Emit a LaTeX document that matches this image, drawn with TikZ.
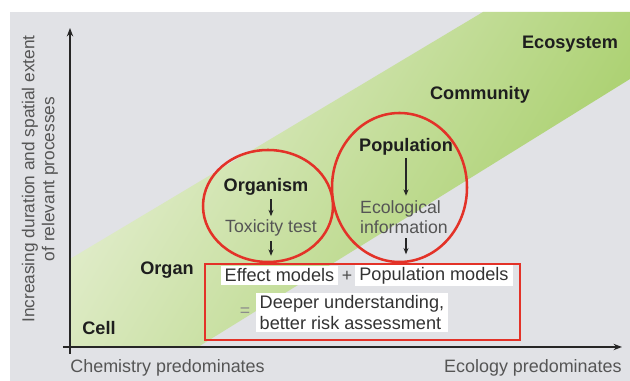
\documentclass[tikz,border=0pt]{standalone}
\usepackage{fontspec}
\setmainfont{Liberation Sans}
\usepackage{xcolor}
\usetikzlibrary{arrows.meta, positioning, calc}
\definecolor{panelgray}{RGB}{225, 226, 230}
\definecolor{bandpale}{RGB}{228, 238, 208}
\definecolor{bandgreen}{RGB}{166, 206, 104}
\definecolor{ringred}{RGB}{227, 50, 40}
\definecolor{labelgray}{RGB}{85, 85, 85}
\definecolor{leveldark}{RGB}{30, 30, 30}
\tikzset{
    level/.style={font=\bfseries\fontsize{8.6}{10}\selectfont, text=leveldark, inner sep=1pt},
    info/.style={font=\fontsize{8.4}{9.6}\selectfont, text=labelgray, inner sep=1pt, align=left},
    axislabel/.style={font=\fontsize{8.5}{10}\selectfont, text=labelgray, inner sep=0pt},
    ring/.style={draw=ringred, line width=1.2pt},
    whitebox/.style={fill=white, font=\fontsize{8.6}{9.8}\selectfont, text=black!80, inner xsep=2pt, inner ysep=1.2pt, align=left}
}

\begin{document}
\begin{tikzpicture}[
    axis/.style={-{Stealth[length=4pt, width=3pt]}, line width=0.9pt, black!85},
    flow/.style={-{Stealth[length=3pt, width=2.4pt]}, line width=0.5pt, black!85}
]
    \useasboundingbox (-1.1667, -0.5667) rectangle (9.3333, 5.7833);
    \fill[white] (-1.1667, -0.5667) rectangle (9.3333, 5.7833);
    \fill[panelgray] (-1, -0.5667) rectangle (9.3333, 5.5833);

    % --- GREEN BAND: scale of organisation ---
    \shade[left color=bandpale, right color=bandgreen, shading angle=59]
        (0, 0) -- (0, 1.4667) -- (6.8833, 5.5833) -- (9.3333, 5.5833)
        -- (9.3333, 4.4667) -- (2.1333, 0) -- cycle;

    % Axes
    \draw[axis] (0, -0.1167) -- (0, 5.3167);
    \draw[axis] (-0.1167, 0) -- (9.2, 0);
    \node[axislabel, anchor=west] (chem) at (0, -0.35) {Chemistry predominates};
    \node[axislabel, anchor=east] (eco) at (9.2, -0.35) {Ecology predominates};
    \node[axislabel, rotate=90, align=center, font=\fontsize{8.2}{9.5}\selectfont] (ylab) at (-0.5, 2.8)
        {Increasing duration and spatial extent\\of relevant processes};

    % Levels along the band
    \node[level] (ecosystem) at (8.3333, 5.05) {Ecosystem};
    \node[level] (community) at (6.8333, 4.2) {Community};
    \node[level] (population) at (5.6, 3.3333) {Population};
    \node[level] (organism) at (3.2667, 2.6667) {Organism};
    \node[level] (organ) at (1.6167, 1.2833) {Organ};
    \node[level] (cell) at (0.4833, 0.3167) {Cell};

    % --- RINGS ---
    \draw[ring] (3.3, 2.35) ellipse (1.0833cm and 0.9333cm);
    \draw[ring] (5.4917, 2.6583) ellipse (1.125cm and 1.2417cm);

    \node[info] (toxicity) at (3.35, 1.9833) {Toxicity test};
    \node[info] (ecoinfo) at (5.5667, 2.1667) {Ecological\\information};

    % Result box
    \node[draw=ringred, line width=1.2pt, minimum width=5.25cm, minimum height=1.2667cm] (box) at (4.875, 0.75) {};
    \node[whitebox] (effect) at (3.4917, 1.1917) {Effect models};
    \node[info, text=black!70] (plus) at (4.6167, 1.1833) {+};
    \node[whitebox] (popmodels) at (6.0667, 1.1917) {Population models};
    \node[info, text=black!45] (equals) at (2.9167, 0.5833) {=};
    \node[whitebox] (deeper) at (4.7, 0.575) {Deeper understanding,\\better risk assessment};

    % Connective arrows
    \draw[flow, shorten >=0.5pt, shorten <=0.5pt] (organism.south -| toxicity) -- (toxicity);
    \draw[flow, shorten <=1pt, shorten >=3.3pt] (toxicity) -- (toxicity |- box.north);
    \draw[flow, shorten >=1pt] (population) -- (population |- ecoinfo.north);
    \draw[flow, shorten <=1pt, shorten >=4pt] (population |- ecoinfo.south) -- (population |- box.north);

\end{tikzpicture}
\end{document}
